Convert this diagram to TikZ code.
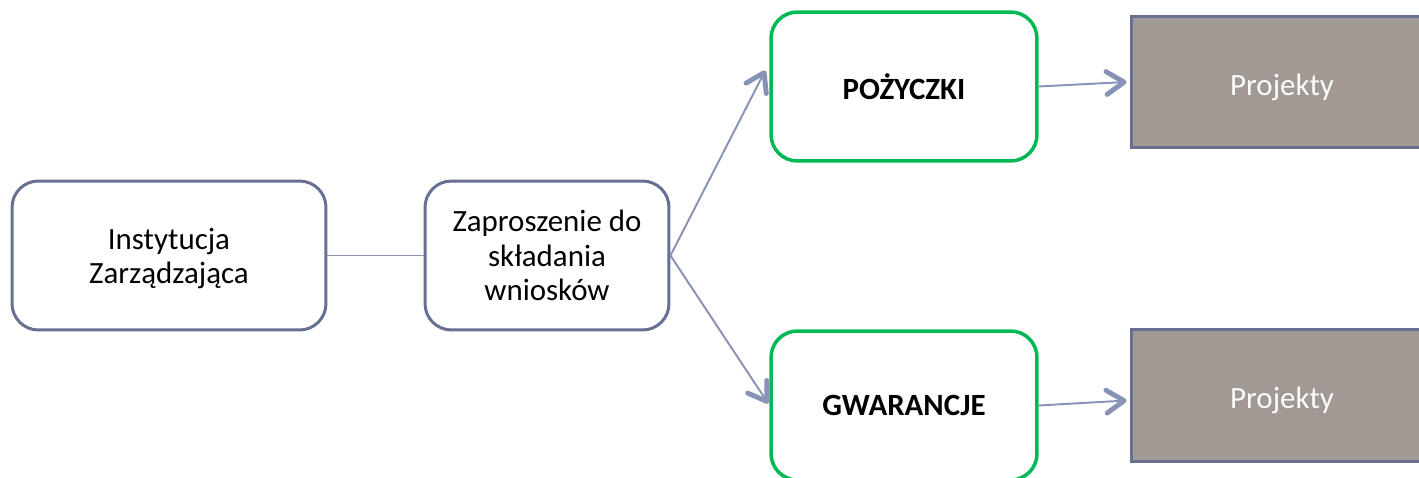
\documentclass[tikz,border=0pt]{standalone}
\usepackage{fontspec}
\setmainfont{Carlito}
\usetikzlibrary{arrows.meta,calc}
\definecolor{frame}{RGB}{104,112,146}
\definecolor{link}{RGB}{136,145,182}
\definecolor{okgreen}{RGB}{0,184,84}
\definecolor{stone}{RGB}{161,154,148}
\begin{document}
\begin{tikzpicture}[x=0.02cm,y=-0.02cm,
  every node/.style={font=\fontsize{17.6}{19.5}\selectfont, align=center, inner sep=0pt,
    text depth=0pt},
  roundbox/.style={draw=frame, line width=1.7pt, fill=white, rounded corners=15pt,
    minimum height=2.98cm},
  greenbox/.style={draw=okgreen, line width=2pt, fill=white, rounded corners=15pt,
    minimum width=5.32cm, minimum height=2.98cm, font=\fontsize{17.6}{19.5}\selectfont\bfseries},
  projbox/.style={draw=frame, line width=1.7pt, fill=stone, text=white!96!stone,
    minimum width=6.04cm, minimum height=2.64cm, text height=15pt},
  link/.style={draw=link, line width=1.1pt},
  linkarrow/.style={link, -{Straight Barb[length=10pt, width=13pt, line width=2.8pt, round]}}
]
\useasboundingbox (0,0) rectangle (1419,477);

\node[roundbox, minimum width=6.28cm] (iz) at (169,255.5) {Instytucja\\Zarządzająca};
\node[roundbox, minimum width=4.88cm] (zap) at (547,255.5) {Zaproszenie do\\składania\\wniosków};
\node[greenbox] (poz) at (904,86.5) {POŻYCZKI};
\node[greenbox] (gwa) at (904,405.5) {GWARANCJE};
\node[projbox] (p1) at (1282,82) {Projekty};
\node[projbox] (p2) at (1282,395.5) {Projekty};

\draw[link] (iz.east) -- (zap.west);
\draw[linkarrow] (zap.east) -- ($(poz.west)+(-4,-16)$);
\draw[linkarrow] (zap.east) -- ($(gwa.west)+(-1,-2)$);
\draw[linkarrow] (poz.east) -- ($(p1.west)+(-3,0)$);
\draw[linkarrow] (gwa.east) -- ($(p2.west)+(-3,5)$);
\end{tikzpicture}
\end{document}
